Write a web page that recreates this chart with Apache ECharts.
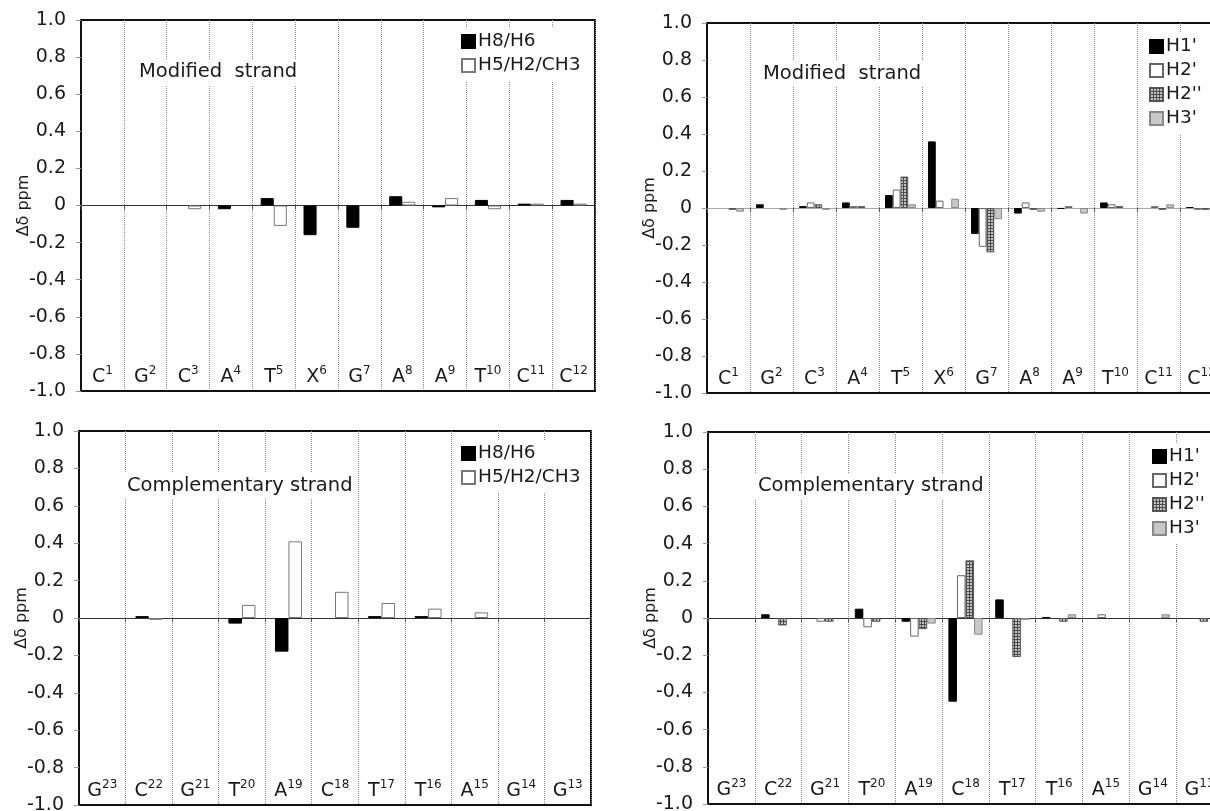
<!DOCTYPE html>
<html>
<head>
<meta charset="utf-8">
<script src="https://cdn.jsdelivr.net/npm/echarts@6/dist/echarts.min.js"></script>
<style>
  html, body { margin: 0; padding: 0; background: #fff; }
  #chart { width: 1210px; height: 811px; }
</style>
</head>
<body>
<div id="chart"></div>
<script>
// categories (base + position number)
const modCats = ['C1', 'G2', 'C3', 'A4', 'T5', 'X6', 'G7', 'A8', 'A9', 'T10', 'C11', 'C12'];
const compCats = ['G23', 'C22', 'G21', 'T20', 'A19', 'C18', 'T17', 'T16', 'A15', 'G14', 'G13'];
const yTicks = [-1, -0.8, -0.6, -0.4, -0.2, 0, 0.2, 0.4, 0.6, 0.8, 1];

// modified strand, base protons
const modH8H6 = [null, null, null, -0.02, 0.04, -0.16, -0.12, 0.05, -0.01, 0.03, 0.01, 0.03];
const modH5H2 = [null, null, -0.02, null, -0.11, null, null, 0.02, 0.04, -0.02, 0.01, 0.01];

// modified strand, sugar protons
const modH1 = [null, 0.02, 0.01, 0.03, 0.07, 0.36, -0.14, -0.03, -0.005, 0.03, null, 0.005];
const modH2 = [null, null, 0.03, 0.01, 0.10, 0.04, -0.21, 0.03, 0.01, 0.02, 0.01, -0.01];
const modH2b = [-0.01, null, 0.02, 0.01, 0.17, null, -0.24, -0.01, null, 0.01, -0.01, -0.01];
const modH3 = [-0.02, -0.01, -0.01, null, 0.02, 0.05, -0.06, -0.02, -0.03, null, 0.02, -0.01];

// complementary strand, base protons
const compH8H6 = [null, 0.01, null, -0.03, -0.18, null, 0.01, 0.01, null, null, null];
const compH5H2 = [null, -0.01, null, 0.07, 0.41, 0.14, 0.08, 0.05, 0.03, null, null];

// complementary strand, sugar protons
const compH1 = [null, 0.02, null, 0.05, -0.02, -0.45, 0.10, 0.005, null, null, null];
const compH2 = [null, null, -0.02, -0.05, -0.10, 0.23, null, null, 0.02, null, null];
const compH2b = [null, -0.04, -0.02, -0.02, -0.06, 0.31, -0.21, -0.02, null, null, -0.02];
const compH3 = [null, null, null, null, -0.03, -0.09, -0.01, 0.02, null, 0.02, null];

const FONT = 'DejaVu Sans';
const TXT = '#1a1a1a';

// checkered fill for H2''
const hatch = document.createElement('canvas');
hatch.width = 3;
hatch.height = 3;
const hctx = hatch.getContext('2d');
hctx.fillStyle = '#c4c4c4';
hctx.fillRect(0, 0, 3, 3);
hctx.fillStyle = '#4a4a4a';
hctx.fillRect(0, 0, 3, 1);
hctx.fillRect(0, 0, 1, 3);

const styles = {
  'H8/H6': { color: '#000', borderColor: '#000', borderWidth: 1 },
  'H5/H2/CH3': { color: '#fff', borderColor: '#777', borderWidth: 1 },
  "H1'": { color: '#000', borderColor: '#000', borderWidth: 1 },
  "H2'": { color: '#fff', borderColor: '#666', borderWidth: 1 },
  "H2''": { color: { image: hatch, repeat: 'repeat' }, borderColor: '#555', borderWidth: 1 },
  "H3'": { color: '#c8c8c8', borderColor: '#888', borderWidth: 1 }
};

const panels = [
  { grid: { left: 81, top: 20, right: 615, bottom: 420 }, cats: modCats, gap: '39%', zero: '#333',
    series: [['H8/H6', modH8H6], ['H5/H2/CH3', modH5H2]] },
  { grid: { left: 707, top: 23, right: -13, bottom: 418 }, cats: modCats, gap: '28%', zero: '#aaa',
    series: [["H1'", modH1], ["H2'", modH2], ["H2''", modH2b], ["H3'", modH3]] },
  { grid: { left: 79, top: 431, right: 619, bottom: 6 }, cats: compCats, gap: '42%', zero: '#333',
    series: [['H8/H6', compH8H6], ['H5/H2/CH3', compH5H2]] },
  { grid: { left: 708, top: 432, right: -13, bottom: 7 }, cats: compCats, gap: '27%', zero: '#333',
    series: [["H1'", compH1], ["H2'", compH2], ["H2''", compH2b], ["H3'", compH3]] }
];

function catLabel(v) {
  const m = v.match(/^([A-Z])(\d+)$/);
  return '{b|' + m[1] + '}{s|' + m[2] + '}';
}

const grid = [], xAxis = [], yAxis = [], series = [];
panels.forEach((p, gi) => {
  grid.push(Object.assign({ show: true, borderColor: '#111', borderWidth: 2, outerBoundsMode: 'none' }, p.grid));
  xAxis.push({
    type: 'category', gridIndex: gi, data: p.cats, position: 'bottom',
    axisLine: { onZero: false, lineStyle: { color: '#111', width: 2 } },
    axisTick: { show: false },
    splitLine: { show: true, interval: 0, lineStyle: { color: '#888', width: 1, type: [1, 1] } },
    axisLabel: {
      inside: true, margin: 4, interval: 0, formatter: catLabel,
      rich: {
        b: { fontSize: 19, fontFamily: FONT, color: TXT, lineHeight: 22, verticalAlign: 'bottom' },
        s: { fontSize: 12, fontFamily: FONT, color: TXT, verticalAlign: 'top' }
      }
    }
  });
  xAxis.push({
    type: 'category', gridIndex: gi, data: p.cats, position: 'bottom',
    axisLine: { onZero: true, lineStyle: { color: p.zero, width: 1 } },
    axisTick: { show: true, interval: 0, length: 4, lineStyle: { color: '#555' } },
    axisLabel: { show: false },
    splitLine: { show: false }
  });
  yAxis.push({
    type: 'value', gridIndex: gi, min: yTicks[0], max: yTicks[yTicks.length - 1], interval: 0.2,
    axisLine: { show: true, lineStyle: { color: '#111', width: 2 } },
    axisTick: { show: true, length: 5, lineStyle: { color: '#999' } },
    splitLine: { show: false },
    axisLabel: {
      margin: 15, fontSize: 19, fontFamily: FONT, color: TXT,
      formatter: v => (Math.abs(v) < 1e-9 ? '0' : v.toFixed(1))
    },
    name: 'Δδ ppm', nameLocation: 'middle', nameGap: 49, nameRotate: 90, nameMoveOverlap: false,
    nameTextStyle: { fontSize: 16, fontFamily: FONT, color: TXT }
  });
  p.series.forEach(([name, data]) => {
    series.push({
      name, type: 'bar', xAxisIndex: gi * 2, yAxisIndex: gi,
      barGap: '0%', barCategoryGap: p.gap,
      itemStyle: styles[name], data,
      emphasis: { disabled: true }, animation: false
    });
  });
});

const legendBase = {
  orient: 'vertical', icon: 'rect', itemWidth: 13, itemHeight: 13, itemGap: 5,
  backgroundColor: '#fff', selectedMode: false, padding: [4, 6, 6, 5],
  textStyle: { fontSize: 18.5, fontFamily: FONT, color: TXT, padding: [0, 0, 0, -2] }
};
const legend = [
  Object.assign({}, legendBase, { data: ['H8/H6', 'H5/H2/CH3'], left: 456, top: 28 }),
  Object.assign({}, legendBase, { data: ["H1'", "H2'", "H2''", "H3'"], left: 1144, top: 33 }),
  Object.assign({}, legendBase, { data: ['H8/H6', 'H5/H2/CH3'], left: 456, top: 440 }),
  Object.assign({}, legendBase, { data: ["H1'", "H2'", "H2''", "H3'"], left: 1147, top: 443 })
];

const titleText = { fontSize: 19.5, fontWeight: 'normal', fontFamily: FONT, color: TXT };
const title = [
  { text: 'Modified  strand', left: 135, top: 59, padding: [3, 4], backgroundColor: '#fff', textStyle: titleText },
  { text: 'Modified  strand', left: 759, top: 61, padding: [3, 4], backgroundColor: '#fff', textStyle: titleText },
  { text: 'Complementary strand', left: 123, top: 473, padding: [3, 4], backgroundColor: '#fff', textStyle: titleText },
  { text: 'Complementary strand', left: 754, top: 473, padding: [3, 4], backgroundColor: '#fff', textStyle: titleText }
];

const chart = echarts.init(document.getElementById('chart'), null, { renderer: 'canvas' });
chart.setOption({
  backgroundColor: '#fff',
  animation: false,
  title, legend, grid, xAxis, yAxis, series
});
</script>
</body>
</html>
